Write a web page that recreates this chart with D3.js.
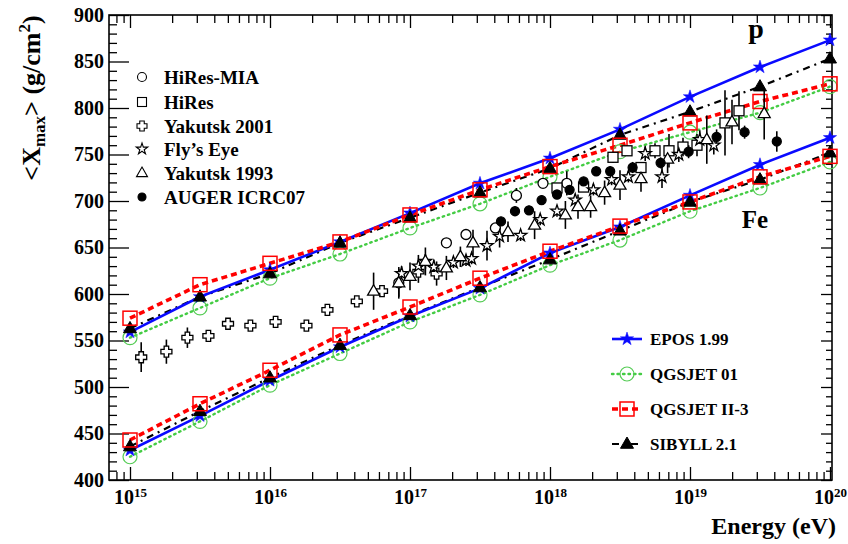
<!DOCTYPE html>
<html>
<head>
<meta charset="utf-8">
<script src="https://cdn.jsdelivr.net/npm/d3@7"></script>
<style>
  body { margin: 0; background: #fff; }
  svg { display: block; }
  text { font-family: "Liberation Serif", "Times New Roman", serif; font-weight: bold; fill: #000; }
</style>
</head>
<body>
<svg id="chart" width="848" height="544"></svg>
<script>
// ---- model predictions: log10(E/eV) grid and <Xmax> in g/cm^2 ----
const modelLogE = [15, 15.5, 16, 16.5, 17, 17.5, 18, 18.5, 19, 19.5, 20];
const eposP    = [559, 597, 626, 656, 687, 719, 746, 777, 812, 844, 873];
const qgs01P   = [553, 585, 617, 643, 671, 697, 726, 753, 774, 795, 823];
const qgs2P    = [574, 610, 633, 656, 685, 712, 737, 760, 784, 807, 826];
const sibyllP  = [563, 597, 622, 655, 682, 709, 735, 771, 796, 823, 853];
const eposFe   = [432, 469, 507, 543, 576, 606, 644, 672, 706, 739, 768];
const qgs01Fe  = [425, 463, 502, 536, 570, 599, 631, 658, 689, 714, 742];
const qgs2Fe   = [443, 482, 518, 556, 586, 617, 646, 673, 699, 726, 748];
const sibyllFe = [436, 474, 510, 545, 577, 607, 637, 668, 699, 723, 752];

// ---- measurements: log10(E/eV), <Xmax>, error ----
const miaLg  = [16.92, 17.26, 17.40, 17.61, 17.76, 17.95, 18.12];
const miaX   = [612, 655, 664, 671, 706, 719, 719];
const miaErr = [15, 5, 5, 5, 8, 5, 13];

const hiresLg  = [18.05, 18.24, 18.45, 18.55, 18.65, 18.75, 18.85, 18.95, 19.05, 19.25, 19.35];
const hiresX   = [714, 715, 747, 754, 736, 754, 754, 758, 760, 784, 797];
const hiresErr = [5, 5, 6, 5, 6, 8, 18, 10, 12, 35, 21];

const yak01Lg  = [15.08, 15.26, 15.41, 15.56, 15.70, 15.86, 16.04, 16.26, 16.41, 16.62, 16.80, 17.06, 17.19];
const yak01X   = [532, 538, 553, 555, 568, 566, 570, 566, 583, 592, 603, 624, 622];
const yak01Err = [16, 13, 11, 4, 4, 4, 4, 4, 4, 4, 4, 12, 13];

const flyLg  = [16.94, 17.06, 17.11, 17.17, 17.31, 17.40, 17.44, 17.55, 17.64, 17.79, 17.93, 18.05, 18.18, 18.31, 18.44, 18.56, 18.68, 18.80, 18.92, 19.07, 19.17];
const flyX   = [622, 630, 635, 629, 634, 636, 638, 652, 662, 663, 680, 689, 701, 712, 723, 726, 751, 726, 750, 766, 760];
const flyErr = [8, 12, 8, 8, 6, 6, 6, 16, 12, 6, 6, 6, 6, 6, 6, 6, 8, 12, 8, 10, 10];

const yak93Lg  = [16.74, 16.92, 17.00, 17.11, 17.26, 17.36, 17.45, 17.70, 17.89, 18.11, 18.20, 18.29, 18.39, 18.50, 18.65, 18.84, 19.12, 19.30, 19.53];
const yak93X   = [603, 612, 619, 635, 628, 640, 655, 667, 674, 685, 694, 694, 709, 717, 724, 745, 766, 785, 794];
const yak93Err = [20, 17, 15, 15, 13, 11, 14, 11, 15, 15, 13, 12, 13, 16, 14, 15, 26, 24, 28];

const augerLg  = [17.65, 17.75, 17.85, 17.94, 18.05, 18.14, 18.24, 18.33, 18.43, 18.59, 18.79, 18.99, 19.19, 19.39, 19.62];
const augerX   = [678, 689, 690, 701, 707, 712, 721, 732, 732, 736, 741, 753, 769, 774, 764];
const augerErr = [5, 5, 5, 5, 5, 5, 5, 5, 5, 6, 6, 7, 8, 7, 11];

// ---- axis ticks ----
const xDecades = [15, 16, 17, 18, 19, 20];
const yTickValues = [400, 450, 500, 550, 600, 650, 700, 750, 800, 850, 900];

// ---- layout ----
const svg = d3.select("#chart");
const L = 109, R = 832, T = 15, B = 480;

const x = d3.scaleLog().domain([Math.pow(10, 14.85), Math.pow(10, 20.0143)]).range([L, R]);
const y = d3.scaleLinear().domain([400, 900]).range([B, T]);

const majorX = xDecades.map(d => Math.pow(10, d));
const minorX = [];
for (let e = 14; e <= 19; e++) for (let k = 2; k <= 9; k++) {
  const v = k * Math.pow(10, e);
  if (v > x.domain()[0] && v < x.domain()[1]) minorX.push(v);
}
const minorY = d3.range(400, 901, 10).filter(v => v % 50 !== 0);

function strip(g) { g.select(".domain").remove(); g.selectAll(".tick line").attr("stroke", "#000").attr("stroke-width", 1.3); }

// bottom axis with 10^n labels
svg.append("g").attr("transform", `translate(0,${B})`)
  .call(d3.axisBottom(x).tickValues(minorX).tickSize(-8).tickFormat(""))
  .call(strip);
svg.append("g").attr("transform", `translate(0,${B})`)
  .call(d3.axisBottom(x).tickValues(majorX).tickSize(-13).tickPadding(10))
  .call(strip)
  .call(g => {
    g.selectAll(".tick text").each(function(d) {
      const t = d3.select(this).text(null).attr("font-size", 20).attr("font-family", "Liberation Serif, serif").attr("font-weight", "bold");
      t.append("tspan").text("10");
      t.append("tspan").attr("dy", "-0.55em").attr("font-size", "13px").text(Math.round(Math.log10(d)));
    });
  });
// top axis (ticks only)
svg.append("g").attr("transform", `translate(0,${T})`)
  .call(d3.axisTop(x).tickValues(minorX).tickSize(-8).tickFormat("")).call(strip);
svg.append("g").attr("transform", `translate(0,${T})`)
  .call(d3.axisTop(x).tickValues(majorX).tickSize(-13).tickFormat("")).call(strip);

// left axis with labels
svg.append("g").attr("transform", `translate(${L},0)`)
  .call(d3.axisLeft(y).tickValues(minorY).tickSize(-8).tickFormat("")).call(strip);
svg.append("g").attr("transform", `translate(${L},0)`)
  .call(d3.axisLeft(y).tickValues(yTickValues).tickSize(-20).tickPadding(5).tickFormat(d3.format("d")))
  .call(strip)
  .call(g => g.selectAll(".tick text").attr("font-size", 20).attr("font-family", "Liberation Serif, serif").attr("font-weight", "bold").attr("fill", "#000"));
// right axis (ticks only)
svg.append("g").attr("transform", `translate(${R},0)`)
  .call(d3.axisRight(y).tickValues(minorY).tickSize(-6).tickFormat("")).call(strip);
svg.append("g").attr("transform", `translate(${R},0)`)
  .call(d3.axisRight(y).tickValues(yTickValues).tickSize(-11).tickFormat("")).call(strip);

// frame
svg.append("rect").attr("x", L).attr("y", T).attr("width", R - L).attr("height", B - T)
  .attr("fill", "none").attr("stroke", "#000").attr("stroke-width", 1.6);

// ---- marker shapes ----
function starPath(Ro) {
  const ri = Ro * 0.382, pts = [];
  for (let i = 0; i < 10; i++) {
    const a = -Math.PI / 2 + i * Math.PI / 5, r = i % 2 ? ri : Ro;
    pts.push([r * Math.cos(a), r * Math.sin(a)]);
  }
  return "M" + pts.map(p => p.join(",")).join("L") + "Z";
}
function triPath(s) {
  const h = s * 0.866;
  return `M0,${-h * 0.62}L${s / 2},${h * 0.38}L${-s / 2},${h * 0.38}Z`;
}
function crossPath(s, a) {
  const S = s / 2, A = a / 2;
  return `M${-A},${-S}L${A},${-S}L${A},${-A}L${S},${-A}L${S},${A}L${A},${A}L${A},${S}L${-A},${S}L${-A},${A}L${-S},${A}L${-S},${-A}L${-A},${-A}Z`;
}
function drawMarker(g, type, cx, cy, opt) {
  const o = Object.assign({ stroke: "#000", fill: "#fff", sw: 1.3, size: 10 }, opt);
  let m;
  if (type === "circle") m = g.append("circle").attr("cx", cx).attr("cy", cy).attr("r", o.size / 2);
  else if (type === "square") m = g.append("rect").attr("x", cx - o.size / 2).attr("y", cy - o.size / 2).attr("width", o.size).attr("height", o.size);
  else {
    const d = type === "star" ? starPath(o.size / 2 + 1) : type === "tri" ? triPath(o.size + 1) : crossPath(o.size + 1, 4.5);
    m = g.append("path").attr("d", d).attr("transform", `translate(${cx},${cy})`);
  }
  m.attr("fill", o.fill).attr("stroke", o.stroke).attr("stroke-width", o.sw).attr("stroke-linejoin", "miter");
  return m;
}

// ---- model curves ----
const models = [
  { name: "QGSJET 01",   sets: [qgs01P, qgs01Fe],   color: "#44cc44", width: 2.4, dash: "1.5,4", cap: "round", marker: "circle", mopt: { fill: "none", stroke: "#55cc55", size: 14, sw: 1.2 } },
  { name: "SIBYLL 2.1",  sets: [sibyllP, sibyllFe], color: "#000",    width: 2.2, dash: "7,5,2,5",  cap: "butt", marker: "tri",    mopt: { fill: "#000", stroke: "#000", size: 12, sw: 1 } },
  { name: "EPOS 1.99",   sets: [eposP, eposFe],     color: "#0a0aff", width: 2.6, dash: null,   cap: "butt",  marker: "star",   mopt: { fill: "#0a0aff", stroke: "#0a0aff", size: 12, sw: 0.5 } },
  { name: "QGSJET II-3", sets: [qgs2P, qgs2Fe],     color: "#ff0000", width: 3.6, dash: "6,4",  cap: "butt",  marker: "square", mopt: { fill: "none", stroke: "#ff0000", size: 14, sw: 1.5 } }
];
const line = d3.line().x(d => x(Math.pow(10, d[0]))).y(d => y(d[1]));
const gModels = svg.append("g");
models.forEach(md => {
  md.sets.forEach(vals => {
    const pts = modelLogE.map((e, i) => [e, vals[i]]);
    gModels.append("path").attr("d", line(pts)).attr("fill", "none")
      .attr("stroke", md.color).attr("stroke-width", md.width)
      .attr("stroke-dasharray", md.dash).attr("stroke-linecap", md.cap);
  });
});
const markerOrder = ["QGSJET 01", "EPOS 1.99", "SIBYLL 2.1", "QGSJET II-3"];
markerOrder.forEach(nm => {
  const md = models.find(m => m.name === nm);
  md.sets.forEach(vals => {
    modelLogE.forEach((e, i) => drawMarker(gModels, md.marker, x(Math.pow(10, e)), y(vals[i]), md.mopt));
  });
});

// ---- measurements ----
const datasets = [
  { name: "HiRes-MIA",    lg: miaLg,   v: miaX,   err: miaErr,   marker: "circle", opt: { size: 10 } },
  { name: "HiRes",        lg: hiresLg, v: hiresX, err: hiresErr, marker: "square", opt: { size: 10 } },
  { name: "Yakutsk 2001", lg: yak01Lg, v: yak01X, err: yak01Err, marker: "cross",  opt: { size: 10 } },
  { name: "Fly\u2019s Eye", lg: flyLg, v: flyX,   err: flyErr,   marker: "star",   opt: { size: 11 } },
  { name: "Yakutsk 1993", lg: yak93Lg, v: yak93X, err: yak93Err, marker: "tri",    opt: { size: 11 } },
  { name: "AUGER ICRC07", lg: augerLg, v: augerX, err: augerErr, marker: "circle", opt: { size: 9, fill: "#000" } }
];
const gErr = svg.append("g"), gPts = svg.append("g");
datasets.forEach(ds => {
  ds.lg.forEach((e, i) => {
    const cx = x(Math.pow(10, e));
    gErr.append("line").attr("x1", cx).attr("x2", cx)
      .attr("y1", y(ds.v[i] - ds.err[i])).attr("y2", y(ds.v[i] + ds.err[i]))
      .attr("stroke", "#000").attr("stroke-width", 1.6);
  });
});
datasets.forEach(ds => {
  ds.lg.forEach((e, i) => drawMarker(gPts, ds.marker, x(Math.pow(10, e)), y(ds.v[i]), ds.opt));
});

// ---- legend: measurements ----
const legData = svg.append("g");
const legRowsY = [77, 102, 126, 149, 173, 197];
datasets.forEach((ds, i) => {
  const o = Object.assign({}, ds.opt, { size: ds.marker === "circle" && !ds.opt.fill ? 9 : (ds.opt.size - 1), sw: 1.1 });
  drawMarker(legData, ds.marker, 142, legRowsY[i], o);
  legData.append("text").attr("x", 164).attr("y", legRowsY[i] + 6.5).attr("font-size", 19).text(ds.name);
});

// ---- legend: models ----
const legModel = svg.append("g");
const legOrder = ["EPOS 1.99", "QGSJET 01", "QGSJET II-3", "SIBYLL 2.1"];
const legModelY = [339, 374, 409, 444];
legOrder.forEach((nm, i) => {
  const md = models.find(m => m.name === nm);
  const ly = legModelY[i];
  legModel.append("line").attr("x1", 612).attr("x2", 642).attr("y1", ly).attr("y2", ly)
    .attr("stroke", md.color).attr("stroke-width", md.width)
    .attr("stroke-dasharray", md.dash).attr("stroke-linecap", md.cap);
  drawMarker(legModel, md.marker, 627, ly, md.mopt);
  legModel.append("text").attr("x", 650).attr("y", ly + 6).attr("font-size", 17).text(nm);
});

// ---- annotations and titles ----
svg.append("text").attr("x", 756).attr("y", 38).attr("font-size", 28).attr("text-anchor", "middle").text("p");
svg.append("text").attr("x", 755).attr("y", 228).attr("font-size", 25).attr("text-anchor", "middle").text("Fe");

svg.append("text").attr("x", 836).attr("y", 534).attr("font-size", 24).attr("text-anchor", "end").text("Energy (eV)");

const yt = svg.append("text").attr("transform", "translate(40,98) rotate(-90)").attr("text-anchor", "middle").attr("font-size", 26);
yt.append("tspan").text("<X");
yt.append("tspan").attr("font-size", "17px").attr("dy", "5").text("max");
yt.append("tspan").attr("dy", "-5").text("> (g/cm");
yt.append("tspan").attr("font-size", "17px").attr("dy", "-10").text("2");
yt.append("tspan").attr("dy", "10").text(")");
</script>
</body>
</html>
